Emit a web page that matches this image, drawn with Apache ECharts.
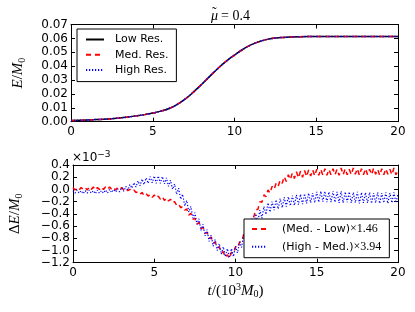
<!DOCTYPE html>
<html><head><meta charset="utf-8">
<script src="https://cdn.jsdelivr.net/npm/echarts@6/dist/echarts.min.js"></script>
<style>html,body{margin:0;padding:0;background:#fff}#c{width:415px;height:312px}</style>
</head><body><div id="c"></div>
<script>
// ---- data ----
const timeTop = [0,0.5,1,1.5,2,2.5,3,3.5,4,4.5,5,5.5,6,6.5,7,7.5,8,8.5,9,9.5,10,10.5,11,11.5,12,12.5,13,13.5,14,14.5,15,15.5,16,16.5,17,17.5,18,18.5,19,19.5,20];
const energyLow = [0.0008,0.0010,0.0012,0.0015,0.0018,0.0022,0.0027,0.0034,0.0042,0.0051,0.0062,0.0076,0.0095,0.0125,0.0165,0.0215,0.0270,0.0328,0.0385,0.0436,0.0480,0.0520,0.0553,0.0576,0.0593,0.0602,0.0607,0.0610,0.0612,0.0613,0.0613,0.0613,0.0613,0.0613,0.0613,0.0613,0.0613,0.0613,0.0613,0.0613,0.0613];
const energyMed = [0.0008,0.0010,0.0012,0.0015,0.0018,0.0022,0.0027,0.0034,0.0042,0.0051,0.0062,0.0076,0.0095,0.0125,0.0165,0.0215,0.0270,0.0328,0.0385,0.0436,0.0480,0.0520,0.0553,0.0576,0.0593,0.0602,0.0607,0.0610,0.0612,0.0613,0.0613,0.0613,0.0613,0.0613,0.0613,0.0613,0.0613,0.0613,0.0613,0.0613,0.0613];
const energyHigh = [0.0008,0.0010,0.0012,0.0015,0.0018,0.0022,0.0027,0.0034,0.0042,0.0051,0.0062,0.0076,0.0095,0.0125,0.0165,0.0215,0.0270,0.0328,0.0385,0.0436,0.0480,0.0520,0.0553,0.0576,0.0593,0.0602,0.0607,0.0610,0.0612,0.0613,0.0613,0.0613,0.0613,0.0613,0.0613,0.0613,0.0613,0.0613,0.0613,0.0613,0.0613];
const topNames = ['Low Res.','Med. Res.','High Res.'];
// bottom panel: sampled every 0.125 (units of 1e-3)
const medMinusLow = [
 0.03,-0.01,0.02,-0.01,0.03,0.00,0.03,-0.01,
 0.04,0.00,0.04,-0.01,0.03,0.00,0.04,0.00,
 0.04,0.00,0.04,0.00,0.03,-0.01,0.03,0.00,
 0.03,-0.01,0.02,-0.02,0.00,-0.03,-0.01,-0.05,
 -0.04,-0.08,-0.05,-0.10,-0.07,-0.11,-0.08,-0.13,
 -0.09,-0.14,-0.11,-0.16,-0.12,-0.18,-0.14,-0.19,
 -0.16,-0.22,-0.20,-0.26,-0.24,-0.30,-0.28,-0.34,
 -0.32,-0.42,-0.39,-0.49,-0.47,-0.57,-0.54,-0.64,
 -0.62,-0.72,-0.70,-0.80,-0.78,-0.88,-0.86,-0.96,
 -0.94,-1.04,-1.02,-1.11,-1.07,-1.13,-1.03,-1.05,
 -0.94,-0.96,-0.86,-0.86,-0.74,-0.73,-0.60,-0.58,
 -0.44,-0.45,-0.33,-0.33,-0.20,-0.21,-0.09,-0.12,
 -0.01,-0.06,0.05,0.00,0.10,0.05,0.15,0.10,
 0.21,0.13,0.24,0.16,0.27,0.18,0.29,0.19,
 0.30,0.20,0.31,0.21,0.32,0.22,0.32,0.22,
 0.33,0.23,0.33,0.23,0.34,0.23,0.33,0.24,
 0.34,0.24,0.33,0.23,0.35,0.24,0.34,0.24,
 0.33,0.24,0.35,0.25,0.34,0.23,0.34,0.24,
 0.34,0.24,0.33,0.24,0.35,0.25,0.33,0.23,
 0.34,0.24,0.34,0.25,0.33,0.24,0.35,0.24,
 0.31];
const highMinusMed = [
 -0.02,-0.06,-0.01,-0.06,-0.02,-0.07,-0.02,-0.06,
 -0.01,-0.06,-0.02,-0.07,-0.01,-0.06,-0.02,-0.06,
 -0.01,-0.06,0.00,-0.05,0.00,-0.04,0.01,-0.04,
 0.03,-0.03,0.05,-0.01,0.08,0.02,0.11,0.04,
 0.14,0.06,0.17,0.08,0.19,0.10,0.21,0.11,
 0.22,0.10,0.22,0.10,0.21,0.09,0.19,0.05,
 0.15,0.00,0.09,-0.08,0.02,-0.16,-0.08,-0.27,
 -0.18,-0.37,-0.28,-0.47,-0.38,-0.57,-0.48,-0.67,
 -0.57,-0.76,-0.66,-0.85,-0.75,-0.93,-0.82,-1.00,
 -0.89,-1.06,-0.94,-1.10,-0.97,-1.12,-0.97,-1.10,
 -0.93,-1.04,-0.86,-0.95,-0.75,-0.83,-0.61,-0.69,
 -0.47,-0.60,-0.40,-0.53,-0.34,-0.47,-0.28,-0.41,
 -0.22,-0.37,-0.20,-0.34,-0.17,-0.32,-0.15,-0.30,
 -0.13,-0.28,-0.12,-0.27,-0.10,-0.26,-0.09,-0.25,
 -0.08,-0.24,-0.07,-0.23,-0.06,-0.22,-0.06,-0.22,
 -0.04,-0.21,-0.03,-0.20,-0.03,-0.21,-0.04,-0.21,
 -0.03,-0.21,-0.04,-0.22,-0.03,-0.22,-0.04,-0.21,
 -0.04,-0.22,-0.05,-0.22,-0.04,-0.23,-0.05,-0.22,
 -0.05,-0.22,-0.05,-0.23,-0.06,-0.22,-0.05,-0.23,
 -0.06,-0.22,-0.05,-0.23,-0.06,-0.22,-0.05,-0.22,
 -0.07];
const bottomNames = ['(Med. - Low)×1.46','(High - Med.)×3.94'];
const timeStep = 0.125;

// ---- chart ----
const timeBottom = medMinusLow.map((_, i) => i * timeStep);
const zip = (xs, ys) => xs.map((x, i) => [x, ys[i]]);
const SANS = 'DejaVu Sans', SERIF = 'Liberation Serif';
const lbl = {fontFamily: SANS, fontSize: 12, color: '#000'};
function xAx(g, pos, show, extra) {
  return Object.assign({gridIndex: g, type: 'value', min: 0, max: 20, interval: 5, position: pos,
    axisLine: {onZero: false, lineStyle: {color: '#000', width: 1}},
    axisTick: {inside: true, length: 4, lineStyle: {color: '#000'}},
    axisLabel: Object.assign({show: show, margin: 4}, lbl),
    splitLine: {show: false}}, extra || {});
}
function yAx(g, pos, show, min, max, interval, fmt, extra) {
  return Object.assign({gridIndex: g, type: 'value', min: min, max: max, interval: interval, position: pos,
    axisLine: {onZero: false, lineStyle: {color: '#000', width: 1}},
    axisTick: {inside: true, length: 4, lineStyle: {color: '#000'}},
    axisLabel: Object.assign({show: show, margin: 3, formatter: fmt}, lbl),
    splitLine: {show: false}}, extra || {});
}
const mathRich = {
  i: {fontFamily: SERIF, fontStyle: 'italic', fontSize: 15, color: '#000'},
  n: {fontFamily: SERIF, fontSize: 15, color: '#000'},
  s: {fontFamily: SERIF, fontSize: 10, color: '#000', padding: [7, 0, 0, 0]},
  p: {fontFamily: SERIF, fontSize: 10, color: '#000', padding: [0, 0, 7, 0]}
};
const legendCommon = {orient: 'vertical', selectedMode: false,
  borderColor: '#000', borderWidth: 1, borderRadius: 0, backgroundColor: '#fff',
  itemStyle: {opacity: 0, borderWidth: 0}};
const chart = echarts.init(document.getElementById('c'), null, {renderer: 'canvas'});
chart.setOption({
  animation: false,
  backgroundColor: '#fff',
  grid: [
    {left: 71, top: 24.5, width: 327, height: 97.2},
    {left: 71, top: 165, width: 327, height: 97.7}
  ],
  xAxis: [
    xAx(0, 'bottom', true),
    xAx(0, 'top', false),
    xAx(1, 'bottom', true, {name: '{i|t}{n|/(10}{p|3}{i|M}{s|0}{n|)}', nameLocation: 'middle', nameGap: 20,
      nameTextStyle: {rich: mathRich}}),
    xAx(1, 'top', false)
  ],
  yAxis: [
    yAx(0, 'left', true, 0, 0.07, 0.01, v => v.toFixed(2), {name: '{i|E}{n|/}{i|M}{s|0}', nameLocation: 'middle', nameRotate: 90, nameGap: 44,
      nameTextStyle: {rich: mathRich}}),
    yAx(0, 'right', false, 0, 0.07, 0.01),
    yAx(1, 'left', true, -1.2, 0.4, 0.2, v => v.toFixed(1).replace('-', '\u2212'), {name: '{n|Δ}{i|E}{n|/}{i|M}{s|0}', nameLocation: 'middle', nameRotate: 90, nameGap: 49,
      nameTextStyle: {rich: mathRich}}),
    yAx(1, 'right', false, -1.2, 0.4, 0.2)
  ],
  legend: [
    Object.assign({data: topNames, left: 77, top: 29,
      padding: [5, 8, 6, 8], itemGap: 4.3, itemWidth: 18, itemHeight: 12,
      textStyle: {fontFamily: SANS, fontSize: 11, color: '#000', padding: [0, 0, 0, 6]}}, legendCommon),
    Object.assign({data: bottomNames, left: 244, top: 219,
      padding: [4, 8, 5, 7], itemGap: 5.7, itemWidth: 15, itemHeight: 12,
      formatter: name => { const k = name.indexOf('×'); return name.slice(0, k) + '{m|' + name.slice(k) + '}'; },
      textStyle: {fontFamily: SANS, fontSize: 11, color: '#000', padding: [0, 0, 0, 10],
        rich: {m: {fontFamily: SERIF, fontSize: 12, color: '#000'}}}}, legendCommon)
  ],
  graphic: [
    {type: 'text', left: 211, top: 9, style: {text: 'μ', fontFamily: SERIF, fontStyle: 'italic', fontSize: 14, fill: '#000'}},
    {type: 'text', left: 212, top: 6, style: {text: '˜', fontFamily: SERIF, fontSize: 14, fill: '#000'}},
    {type: 'text', left: 221, top: 9, style: {text: '= 0.4', fontFamily: SERIF, fontSize: 14, fill: '#000'}},
    {type: 'text', left: 72, top: 150, style: {text: '×10{p|−3}', fontFamily: SANS, fontSize: 12, fill: '#000', rich: {
      p: {fontFamily: SANS, fontSize: 9, fill: '#000', padding: [0, 0, 6, 0]}}}}
  ],
  series: [
    {name: topNames[0], type: 'line', xAxisIndex: 0, yAxisIndex: 0, data: zip(timeTop, energyLow), symbol: 'none', smooth: true,
      lineStyle: {color: '#000', width: 1.5}, itemStyle: {color: '#000'}},
    {name: topNames[1], type: 'line', xAxisIndex: 0, yAxisIndex: 0, data: zip(timeTop, energyMed), symbol: 'none', smooth: true,
      lineStyle: {color: '#ff0000', width: 1.5, type: [5, 4]}, itemStyle: {color: '#ff0000'}},
    {name: topNames[2], type: 'line', xAxisIndex: 0, yAxisIndex: 0, data: zip(timeTop, energyHigh), symbol: 'none', smooth: true,
      lineStyle: {color: '#0000ff', width: 1.5, type: [1.2, 1.8]}, itemStyle: {color: '#0000ff'}},
    {name: bottomNames[0], type: 'line', xAxisIndex: 2, yAxisIndex: 2, data: zip(timeBottom, medMinusLow), symbol: 'none',
      lineStyle: {color: '#ff0000', width: 1.5, type: [5, 4]}, itemStyle: {color: '#ff0000'}},
    {name: bottomNames[1], type: 'line', xAxisIndex: 2, yAxisIndex: 2, data: zip(timeBottom, highMinusMed), symbol: 'none',
      lineStyle: {color: '#0000ff', width: 1.2, type: [1.2, 1.8]}, itemStyle: {color: '#0000ff'}}
  ]
});
</script></body></html>
